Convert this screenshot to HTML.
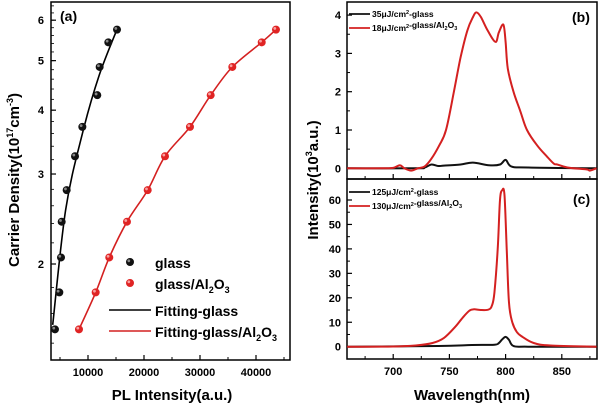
<!DOCTYPE html>
<html><head><meta charset="utf-8"><style>
html,body{margin:0;padding:0;background:#fff}
svg{display:block;font-family:"Liberation Sans",Arial,sans-serif;font-weight:bold}
</style></head><body>
<svg id="fig" width="600" height="409" viewBox="0 0 600 409" xmlns="http://www.w3.org/2000/svg">
<g id="pa"></g>
<g id="pb"></g>
<g id="pc"></g>
</svg>
<script>
// Panel (a) data
const glassX = [4100,4880,5180,5300,6190,7680,8990,11660,12080,13630,15180];
const glassY = [1.49,1.76,2.06,2.42,2.79,3.25,3.71,4.28,4.86,5.43,5.75];
const aloX = [8390,11370,13800,16960,20660,23750,28210,31910,35770,41020,43570];
const aloY = [1.49,1.76,2.06,2.42,2.79,3.25,3.71,4.28,4.86,5.43,5.75];
const fitGlassX = [3700,6000,9000,12000,15300];
const fitGlassY = [1.52,2.55,3.6,4.68,5.8];
const fitAloX = [8390,11370,13800,16960,20660,23750,28210,31910,35770,41020,43570];
const fitAloY = [1.49,1.76,2.06,2.42,2.79,3.25,3.71,4.28,4.86,5.43,5.75];
const aXTicks = [10000,20000,30000,40000];
const aYTicks = [2,3,4,5,6];
// Panel (b) data
const bRedX = [659,690,700,706,710,716,722,728,734,741,747,754,760,766,771,774,778,784,791,794,798,800,802,807,813,819,828,837,843,846,855,872,875,881];
const bRedY = [0,0,0.01,0.08,0.0,-0.06,0,0.05,0.25,0.6,1.0,2.0,2.9,3.6,3.95,4.07,3.95,3.6,3.3,3.55,3.75,3.3,2.6,2.0,1.5,1.0,0.6,0.3,0.12,0.1,0.02,-0.03,-0.06,0];
const bBlkX = [659,720,728,734,740,745,760,771,785,795,800,805,820,881];
const bBlkY = [0,0,0.02,0.1,0.06,0.07,0.1,0.15,0.08,0.1,0.22,0.05,0.02,0];
const bYTicks = [0,1,2,3,4];
// Panel (c) data
const cRedX = [659,700,720,735,745,755,762,768,772,778,785,788,790,793,795,797,799,801,803,806,810,815,825,840,881];
const cRedY = [0,0.1,0.5,1.5,3.5,8,12,14.8,15.3,15,15.2,17,22,40,60,64,62,40,18,10,6,4,1.5,0.5,0];
const cBlkX = [659,740,770,790,794,797,800,803,807,820,881];
const cBlkY = [0,0.3,0.7,0.8,1.5,3,4,2.8,0.3,0,0];
const cYTicks = [0,10,20,30,40,50,60];
const wlTicks = [700,750,800,850];

const NS="http://www.w3.org/2000/svg";
function mk(parent,tag,attrs,text){const e=document.createElementNS(NS,tag);for(const k in attrs)e.setAttribute(k,attrs[k]);if(text!==undefined)e.textContent=text;parent.appendChild(e);return e;}

const A={l:51,r:290,t:2,b:360};
const ax=v=>32+v*0.0056;
const ay=v=>264-Math.log10(v/2)*511;
const pa=document.getElementById('pa');
let fr=mk(pa,'rect',{x:A.l,y:A.t,width:A.r-A.l,height:A.b-A.t,fill:'none',stroke:'#000','stroke-width':1.5});


aXTicks.forEach(v=>{const x=ax(v);mk(pa,'line',{x1:x,x2:x,y1:A.b,y2:A.b-5,stroke:'#000','stroke-width':1.2});
 const t=mk(pa,'text',{x:x,y:A.b+16,'text-anchor':'middle','font-size':11},String(v));
 });
[5000,15000,25000,35000,45000].forEach(v=>{const x=ax(v);mk(pa,'line',{x1:x,x2:x,y1:A.b,y2:A.b-3,stroke:'#000','stroke-width':1});});
aYTicks.forEach(v=>{const y=ay(v);mk(pa,'line',{x1:A.l,x2:A.l+5,y1:y,y2:y,stroke:'#000','stroke-width':1.2});
 const t=mk(pa,'text',{x:A.l-7,y:y+4,'text-anchor':'end','font-size':11},String(v));
 });
for(let v=1.4;v<6.5;v+=0.2){const y=ay(v);if(y>A.t&&y<A.b)mk(pa,'line',{x1:A.l,x2:A.l+3,y1:y,y2:y,stroke:'#000','stroke-width':0.8});}
function path(parent,xs,ys,fx,fy,color,w,name){
 const P=xs.map((v,i)=>[fx(v),fy(ys[i])]);
 let d='M'+P[0][0].toFixed(1)+' '+P[0][1].toFixed(1);
 for(let i=0;i<P.length-1;i++){const p0=P[Math.max(0,i-1)],p1=P[i],p2=P[i+1],p3=P[Math.min(P.length-1,i+2)];
  const c1=[p1[0]+(p2[0]-p0[0])/6,p1[1]+(p2[1]-p0[1])/6],c2=[p2[0]-(p3[0]-p1[0])/6,p2[1]-(p3[1]-p1[1])/6];
  d+=' C'+c1[0].toFixed(1)+' '+c1[1].toFixed(1)+' '+c2[0].toFixed(1)+' '+c2[1].toFixed(1)+' '+p2[0].toFixed(1)+' '+p2[1].toFixed(1);}
 const p=mk(parent,'path',{d:d,fill:'none',stroke:color,'stroke-width':w,'stroke-linejoin':'round'});
 return p;}
path(pa,fitGlassX,fitGlassY,ax,ay,'#000',1.6,'fit-glass-line');
path(pa,fitAloX,fitAloY,ax,ay,'#d42020',1.6,'fit-glass-al2o3-line');
function dot(parent,x,y,c,hl,name){const g=mk(parent,'g',{});
 mk(g,'circle',{cx:x,cy:y,r:4,fill:c});mk(g,'circle',{cx:x-1.2,cy:y-1.2,r:1.4,fill:hl});}
glassX.forEach((v,i)=>dot(pa,ax(v),ay(glassY[i]),'#111','#888','glass-point'));
aloX.forEach((v,i)=>dot(pa,ax(v),ay(aloY[i]),'#e02424','#f8a0a0','glass-al2o3-point'));
dot(pa,130,262,'#111','#888','legend-glass-marker');
dot(pa,130,283,'#e02424','#f8a0a0','legend-al2o3-marker');
mk(pa,'line',{x1:109,x2:151,y1:310,y2:310,stroke:'#000','stroke-width':1.5});
mk(pa,'line',{x1:109,x2:151,y1:331,y2:331,stroke:'#d42020','stroke-width':1.5});
let t;
t=mk(pa,'text',{x:155,y:268,'font-size':14},'glass');
t=mk(pa,'text',{x:155,y:289,'font-size':14});t.innerHTML='glass/Al<tspan font-size="9" dy="4">2</tspan><tspan dy="-4">O</tspan><tspan font-size="9" dy="4">3</tspan>';
t=mk(pa,'text',{x:155,y:316,'font-size':14},'Fitting-glass');
t=mk(pa,'text',{x:155,y:337,'font-size':14});t.innerHTML='Fitting-glass/Al<tspan font-size="9" dy="4">2</tspan><tspan dy="-4">O</tspan><tspan font-size="9" dy="4">3</tspan>';
t=mk(pa,'text',{x:60,y:21,'font-size':14},'(a)');
t=mk(pa,'text',{x:172,y:400,'text-anchor':'middle','font-size':15},'PL Intensity(a.u.)');
t=mk(pa,'text',{x:0,y:0,'text-anchor':'middle','font-size':15,transform:'translate(19,180) rotate(-90)'});t.innerHTML='Carrier Density(10<tspan font-size="9" dy="-6">17</tspan><tspan dy="6">cm</tspan><tspan font-size="9" dy="-6">-3</tspan><tspan dy="6">)</tspan>';

const L=347,R=597;
const wx=v=>337+(v-650)*1.124;
const by=v=>168.3-v*38.3;
const cy=v=>346.7-v*2.445;
function panel(g,top,bot,fy,ticks,labelFmt,name){
 const r=mk(g,'rect',{x:L,y:top,width:R-L,height:bot-top,fill:'none',stroke:'#000','stroke-width':1.5});
 
 ticks.forEach(v=>{const y=fy(v);mk(g,'line',{x1:L,x2:L+5,y1:y,y2:y,stroke:'#000','stroke-width':1.2});
  const t=mk(g,'text',{x:L-6,y:y+4,'text-anchor':'end','font-size':11},String(v));
  });
 for(let i=0;i<ticks.length-1;i++){const y=fy((ticks[i]+ticks[i+1])/2);mk(g,'line',{x1:L,x2:L+3,y1:y,y2:y,stroke:'#000','stroke-width':1});}
 wlTicks.forEach(v=>{const x=wx(v);mk(g,'line',{x1:x,x2:x,y1:bot,y2:bot-5,stroke:'#000','stroke-width':1.2});});
 [675,725,775,825,875].forEach(v=>{const x=wx(v);mk(g,'line',{x1:x,x2:x,y1:bot,y2:bot-3,stroke:'#000','stroke-width':1});});
}
const pb=document.getElementById('pb'),pc=document.getElementById('pc');
panel(pb,2,179,by,bYTicks,null,'panel-b');
panel(pc,179,359,cy,cYTicks,null,'panel-c');
path(pb,bBlkX,bBlkY,wx,by,'#111',2,'b-glass-spectrum');
path(pb,bRedX,bRedY,wx,by,'#d42020',2,'b-glass-al2o3-spectrum');
path(pc,cBlkX,cBlkY,wx,cy,'#111',2,'c-glass-spectrum');
path(pc,cRedX,cRedY,wx,cy,'#d42020',2,'c-glass-al2o3-spectrum');
wlTicks.forEach(v=>{const t=mk(pc,'text',{x:wx(v),y:375,'text-anchor':'middle','font-size':11},String(v));});
function leg(g,y,color,html,name){mk(g,'line',{x1:349,x2:370,y1:y,y2:y,stroke:color,'stroke-width':1.8});
 const t=mk(g,'text',{x:372,y:y+3,'font-size':8.5});t.innerHTML=html;}
const al='-glass/Al<tspan font-size="5.5" dy="2">2</tspan><tspan dy="-2">O</tspan><tspan font-size="5.5" dy="2">3</tspan>';
leg(pb,14,'#111','35μJ/cm<tspan font-size="5.5" dy="-3">2</tspan><tspan dy="3">-glass</tspan>','legend-b-glass');
leg(pb,28,'#d42020','18μJ/cm<tspan font-size="5.5" dy="-3">2</tspan><tspan dy="3"></tspan>'+al,'legend-b-al2o3');
leg(pc,192,'#111','125μJ/cm<tspan font-size="5.5" dy="-3">2</tspan><tspan dy="3">-glass</tspan>','legend-c-glass');
leg(pc,206,'#d42020','130μJ/cm<tspan font-size="5.5" dy="-3">2</tspan><tspan dy="3"></tspan>'+al,'legend-c-al2o3');
t=mk(pb,'text',{x:572,y:22,'font-size':14},'(b)');
t=mk(pc,'text',{x:573,y:204,'font-size':14},'(c)');
t=mk(pc,'text',{x:472,y:400,'text-anchor':'middle','font-size':15},'Wavelength(nm)');
t=mk(pb,'text',{x:0,y:0,'text-anchor':'middle','font-size':15,transform:'translate(318,180) rotate(-90)'});t.innerHTML='Intensity(10<tspan font-size="9" dy="-6">3</tspan><tspan dy="6">a.u.)</tspan>';
</script>
</body></html>
